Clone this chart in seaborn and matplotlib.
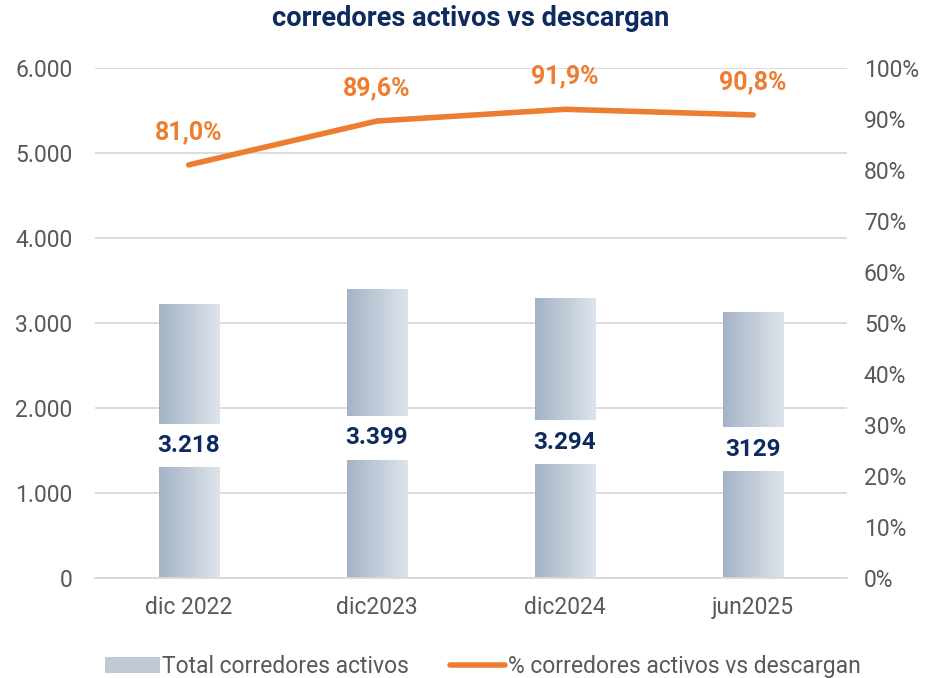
import numpy as np
import pandas as pd
import seaborn as sns
import matplotlib.pyplot as plt
from matplotlib.patches import Patch
from matplotlib.lines import Line2D
from matplotlib.ticker import FuncFormatter

# data
periods = ['dic 2022', 'dic2023', 'dic2024', 'jun2025']
total_corredores = [3218, 3399, 3294, 3129]
bar_labels = ['3.218', '3.399', '3.294', '3129']
pct_descargan = [81.0, 89.6, 91.9, 90.8]
pct_labels = ['81,0%', '89,6%', '91,9%', '90,8%']

navy = '#0E2A5F'
orange = '#ED7D31'
grey_txt = '#595959'

sns.set_theme(style='white')
plt.rcParams['font.family'] = ['Roboto', 'DejaVu Sans']

df = pd.DataFrame({'periodo': periods, 'total': total_corredores, 'pct': pct_descargan})

fig = plt.figure(figsize=(9.28, 6.78), dpi=100)
ax = fig.add_axes([0.102, 0.1475, 0.811, 0.7522])

sns.barplot(data=df, x='periodo', y='total', color='#C3CDD8', width=0.32, ax=ax, zorder=2)
ax.set_xlim(-0.5, 3.5)
ax.set_ylim(0, 6000)

# horizontal gradient fill for each bar
grad = np.linspace(0, 1, 256).reshape(1, -1)
cmap = sns.blend_palette(['#A3B3C5', '#DEE4EB'], as_cmap=True)
for p in ax.patches:
    x0, y0 = p.get_x(), p.get_y()
    w, h = p.get_width(), p.get_height()
    im = ax.imshow(grad, extent=[x0, x0 + w, y0, y0 + h], aspect='auto',
                   cmap=cmap, zorder=2)
    im.set_clip_path(p)
    p.set_facecolor('none')
    p.set_edgecolor('none')
ax.set_xlim(-0.5, 3.5)
ax.set_ylim(0, 6000)

for i, (v, lab) in enumerate(zip(total_corredores, bar_labels)):
    ax.text(i, v * 0.485, lab, ha='center', va='center', fontsize=17.5,
            fontweight='bold', color=navy, zorder=4,
            bbox=dict(boxstyle='square,pad=0.42', fc='white', ec='none'))

ax.yaxis.grid(True, color='#D9D9D9', linewidth=1.3)
ax.set_axisbelow(True)
ax.yaxis.set_major_formatter(FuncFormatter(lambda v, _: f'{int(v):,}'.replace(',', '.')))
ax.set_xlabel('')
ax.set_ylabel('')
ax.tick_params(axis='y', labelsize=16.5, labelcolor=grey_txt, pad=16, length=0)
ax.tick_params(axis='x', labelsize=16.5, labelcolor=grey_txt, pad=13, length=0)
sns.despine(ax=ax, left=True, bottom=True)
ax.spines['bottom'].set_visible(True)
ax.spines['bottom'].set_color('#D9D9D9')
ax.spines['bottom'].set_linewidth(1.3)

ax2 = ax.twinx()
sns.lineplot(x=np.arange(len(periods)), y=df['pct'], color=orange, linewidth=4,
             ax=ax2, solid_capstyle='round')
ax2.set_ylim(0, 100)
ax2.set_yticks(np.arange(0, 101, 10))
ax2.yaxis.set_major_formatter(FuncFormatter(lambda v, _: f'{int(v)}%'))
ax2.set_ylabel('')
ax2.tick_params(axis='y', labelsize=16.5, labelcolor=grey_txt, pad=12, length=0)
ax2.grid(False)
for s in ax2.spines.values():
    s.set_visible(False)
ax2.set_xlim(-0.5, 3.5)

for i, (v, lab) in enumerate(zip(pct_descargan, pct_labels)):
    ax2.annotate(lab, (i, v), xytext=(0, 15), textcoords='offset points',
                 ha='center', va='bottom', fontsize=18, fontweight='bold', color=orange)

ax.set_title('corredores activos vs descargan', fontsize=19.5, fontweight='bold',
             color=navy, pad=30)

handles = [Patch(facecolor='#BFCAD6', edgecolor='none'),
           Line2D([0], [0], color=orange, linewidth=4)]
fig.legend(handles, ['Total corredores activos', '% corredores activos vs descargan'],
           loc='lower center', bbox_to_anchor=(0.52, -0.03), ncol=2, frameon=False,
           fontsize=16.5, labelcolor=grey_txt, handlelength=2.4, columnspacing=1.8,
           handletextpad=0.1)

fig.savefig('out.png', dpi=100)
